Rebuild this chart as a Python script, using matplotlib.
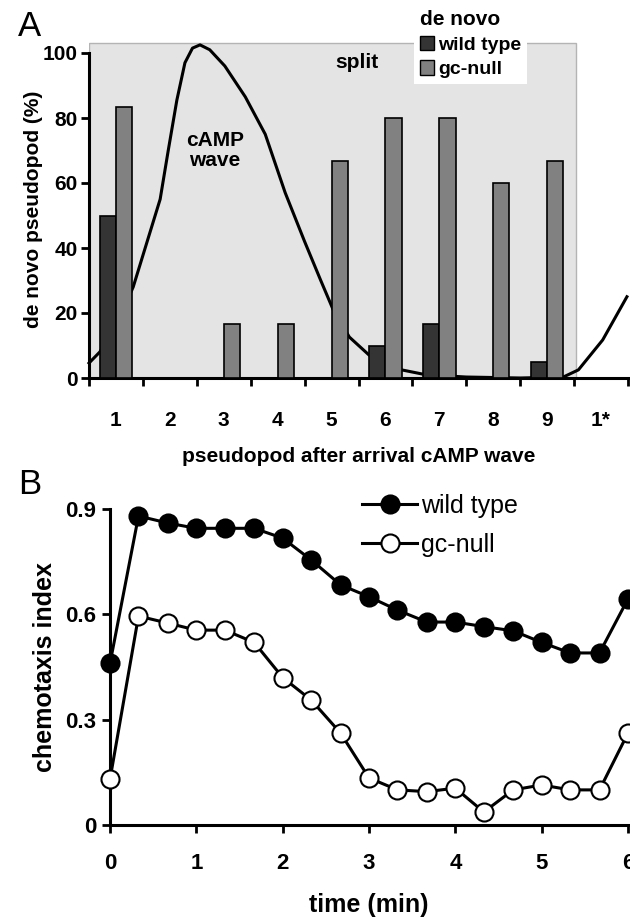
import numpy as np
import matplotlib
matplotlib.use("Agg")
import matplotlib.pyplot as plt
from matplotlib.patches import Rectangle, Patch

plt.rcParams['font.family'] = ['Liberation Sans', 'DejaVu Sans']

# panel A: de novo pseudopods per pseudopod after the cAMP wave
categories = ['1', '2', '3', '4', '5', '6', '7', '8', '9', '1*']
wild_type_pct = [50, 0, 0, 0, 0, 10, 16.7, 0, 5]
gc_null_pct = [83.3, 0, 16.7, 16.7, 66.7, 80, 80, 60, 66.7]

# cAMP wave trace (x in pseudopod units from the axis origin)
wave_x = [0, 0.2, 0.5, 0.82, 1.07, 1.32, 1.47, 1.63, 1.78, 1.92, 2.06, 2.24,
          2.52, 2.9, 3.27, 3.64, 4.0, 4.3, 4.53, 4.83, 5.2, 5.8, 6.25, 7.0,
          8.0, 8.8, 9.08, 9.53, 9.98]
wave_y = [4.6, 8, 16, 28, 41.5, 55, 70, 85.5, 97, 101.5, 102.5, 101,
          96, 86.5, 75, 57, 42, 30, 21, 12.6, 7, 2.5, 1, 0.3,
          0, 0.3, 2.5, 11.7, 25]

# panel B: chemotaxis index over time
time_min = [0, 0.33, 0.67, 1.0, 1.33, 1.67, 2.0, 2.33, 2.67, 3.0, 3.33, 3.67,
            4.0, 4.33, 4.67, 5.0, 5.33, 5.67, 6.0]
ci_wild_type = [0.46, 0.88, 0.86, 0.845, 0.845, 0.845, 0.817, 0.755, 0.684,
                0.65, 0.612, 0.578, 0.578, 0.565, 0.553, 0.52, 0.49, 0.49, 0.644]
ci_gc_null = [0.13, 0.595, 0.575, 0.555, 0.555, 0.52, 0.42, 0.356, 0.262,
              0.134, 0.10, 0.095, 0.105, 0.037, 0.10, 0.114, 0.10, 0.10, 0.262]

W, H = 630, 919
fig = plt.figure(figsize=(W / 100, H / 100), dpi=100)

def fx(px):
    return px / W

def fy(py):
    return 1 - py / H

# ---------------- panel A ----------------
axA = fig.add_axes([fx(89), fy(378), fx(628) - fx(89), fy(40) - fy(378)])
axA.set_xlim(0, 10)
axA.set_ylim(0, 104)
axA.add_patch(Rectangle((0, 0), 9.03, 103, facecolor='#e4e4e4',
                        edgecolor='#b4b4b4', linewidth=1, zorder=1))
axA.plot(wave_x, wave_y, color='black', lw=2.2, zorder=2, clip_on=False,
         solid_joinstyle='round')

centers = np.arange(len(wild_type_pct)) + 0.5
bw = 0.3
axA.bar(centers - bw / 2, wild_type_pct, width=bw, color='#343434',
        edgecolor='black', linewidth=1.2, zorder=3)
axA.bar(centers + bw / 2, gc_null_pct, width=bw, color='#818181',
        edgecolor='black', linewidth=1.2, zorder=3)

for s in ['top', 'right']:
    axA.spines[s].set_visible(False)
for s in ['left', 'bottom']:
    axA.spines[s].set_linewidth(2.2)
axA.spines['left'].set_bounds(0, 100)

axA.set_yticks([0, 20, 40, 60, 80, 100])
axA.set_xticks(np.arange(0, 11))
axA.set_xticklabels([])
axA.set_xticks(np.arange(len(categories)) + 0.5, minor=True)
axA.set_xticklabels(categories, minor=True)
axA.tick_params(axis='x', which='major', length=6, width=2, direction='out')
axA.tick_params(axis='x', which='minor', length=0, pad=24, labelsize=15)
axA.tick_params(axis='y', length=6, width=2, pad=2, labelsize=15)
for lab in axA.get_xticklabels(minor=True) + axA.get_yticklabels():
    lab.set_fontweight('bold')

axA.set_ylabel('de novo pseudopod (%)', fontsize=15, fontweight='bold', labelpad=0)
axA.set_xlabel('pseudopod after arrival cAMP wave', fontsize=15,
               fontweight='bold', labelpad=12)
axA.text(2.34, 70, 'cAMP\nwave', ha='center', va='center', fontsize=15,
         fontweight='bold', linespacing=1.1, zorder=4)
axA.text(4.97, 97, 'split', ha='center', va='center', fontsize=15,
         fontweight='bold', zorder=4)

legA = fig.legend(handles=[Patch(facecolor='#343434', edgecolor='black'),
                           Patch(facecolor='#818181', edgecolor='black')],
                  labels=['wild type', 'gc-null'], title='de novo',
                  loc='upper left', bbox_to_anchor=(fx(414), fy(4)),
                  title_fontproperties={'size': 15, 'weight': 'bold'},
                  prop={'size': 14, 'weight': 'bold'}, alignment='left',
                  frameon=True, fancybox=False, framealpha=1,
                  facecolor='white', edgecolor='none', borderpad=0.3,
                  handlelength=0.75, handleheight=0.75, handletextpad=0.2,
                  labelspacing=0.35, borderaxespad=0)
legA.set_zorder(10)

fig.text(fx(18), fy(26), 'A', fontsize=25, ha='left', va='center')

# ---------------- panel B ----------------
axB = fig.add_axes([fx(110), fy(825), fx(628) - fx(110), fy(509) - fy(825)])
axB.set_xlim(0, 6)
axB.set_ylim(0, 0.9)
axB.plot(time_min, ci_wild_type, '-o', color='black', lw=2.2, ms=13,
         mfc='black', mec='black', mew=1.5, zorder=4, clip_on=False,
         label='wild type')
axB.plot(time_min, ci_gc_null, '-o', color='black', lw=2.2, ms=13,
         mfc='white', mec='black', mew=1.5, zorder=4, clip_on=False,
         label='gc-null')

for s in ['top', 'right']:
    axB.spines[s].set_visible(False)
for s in ['left', 'bottom']:
    axB.spines[s].set_linewidth(2.2)

axB.set_yticks([0, 0.3, 0.6, 0.9])
axB.set_yticklabels(['0', '0.3', '0.6', '0.9'])
axB.set_xticks(range(7))
axB.tick_params(axis='x', length=6, width=2, pad=14, labelsize=16)
axB.tick_params(axis='y', length=6, width=2, pad=4, labelsize=16)
for lab in axB.get_xticklabels() + axB.get_yticklabels():
    lab.set_fontweight('bold')

axB.set_ylabel('chemotaxis index', fontsize=18, fontweight='bold', labelpad=6)
axB.set_xlabel('time (min)', fontsize=18, fontweight='bold', labelpad=14)

axB.legend(loc='upper left', bbox_to_anchor=(fx(362), fy(494)),
           bbox_transform=fig.transFigure, frameon=False, fontsize=18,
           borderpad=0, borderaxespad=0, handlelength=2.2,
           handletextpad=0.15, labelspacing=0.6)

fig.text(fx(18), fy(485), 'B', fontsize=25, ha='left', va='center')

fig.savefig('out.png', dpi=100)
